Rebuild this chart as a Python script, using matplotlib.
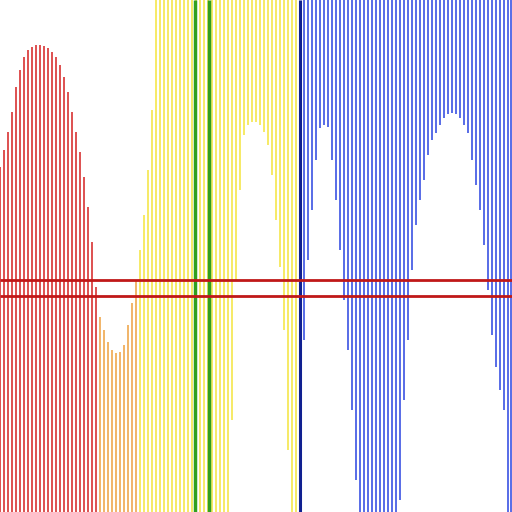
import matplotlib.pyplot as plt
import numpy as np

# stems rising from the bottom: x positions and tops
red_x = list(range(0, 100, 4))
red_top = [345, 362, 380, 400, 425, 442, 455, 462, 465, 467, 467, 466, 464, 460, 455, 447, 435, 420,
           400, 380, 360, 335, 305, 270, 225]
orange_x = list(range(100, 140, 4))
orange_top = [195, 182, 170, 162, 159, 160, 167, 187, 209, 232]
yellow_x = list(range(140, 156, 4)) + list(range(156, 232, 4)) + [292, 296]
yellow_top = [262, 297, 342, 402] + [512] * 19 + [512, 512]

# stems hanging from the top: x positions and lower ends
yellow_hang_x = list(range(232, 292, 4))
yellow_hang_low = [92, 232, 322, 377, 387, 390, 390, 387, 380, 367, 337, 292, 245, 182, 62]
blue_x = list(range(304, 512, 4)) + [511]
blue_low = [172, 252, 302, 352, 384, 387, 385, 352, 312, 262, 212, 162, 102, 32,
            0, 0, 0, 0, 0, 0, 0, 0, 0, 0,
            12, 112, 172, 242, 287, 312, 332, 357, 372, 379, 387, 394, 398, 399, 398, 394,
            387, 379, 352, 327, 302, 267, 222, 177, 145, 122, 102, 0, 0]

hlines_y = [232, 216]
green_x = [195, 209]
navy_x = [300]

fig = plt.figure(figsize=(5.12, 5.12), dpi=100)
ax = fig.add_axes([0, 0, 1, 1])
lw = 1.1
ax.vlines(red_x, 0, red_top, color='#d42020', lw=lw)
ax.vlines(orange_x, 0, orange_top, color='#eea040', lw=lw)
ax.vlines(yellow_x, 0, yellow_top, color='#f4e43c', lw=lw)
ax.vlines(yellow_hang_x, yellow_hang_low, 512, color='#f4e43c', lw=lw)
ax.vlines(blue_x, blue_low, 512, color='#2a44e0', lw=lw)
ax.vlines(green_x, 0, 512, color='#30a020', lw=2.5)
ax.vlines(navy_x, 0, 512, color='#102090', lw=2.2)
ax.hlines(hlines_y, 0, 512, color='#c01818', lw=2)
ax.set_xlim(0, 512)
ax.set_ylim(0, 512)
ax.axis('off')
fig.savefig('out.png')
